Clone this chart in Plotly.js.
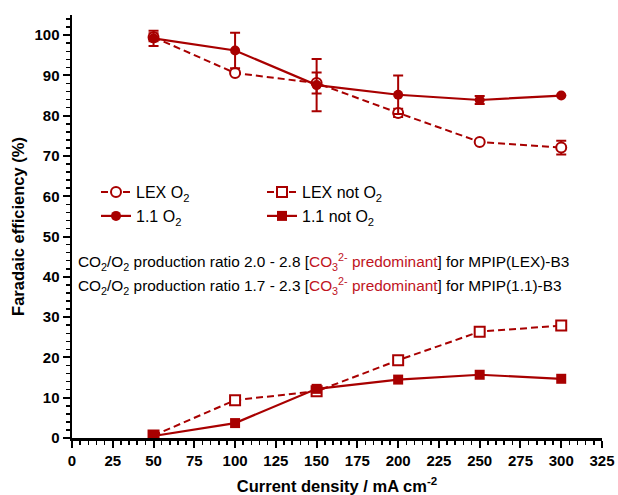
<!DOCTYPE html>
<html>
<head>
<meta charset="utf-8">
<script src="https://cdn.plot.ly/plotly-3.0.1.min.js"></script>
<style>html,body{margin:0;padding:0;background:#fff;}#chart{width:618px;height:495px;}</style>
</head>
<body>
<div id="chart"></div>
<script>
// Current density (mA cm^-2)
const currentDensity = [50, 100, 150, 200, 250, 300];
// Faradaic efficiency (%)
const lexO2 = [99.5, 90.6, 88.1, 80.7, 73.5, 72.1];
const lexO2Err = [1.0, 0, 2.6, 1.0, 0, 1.7];
const o2_11 = [99.2, 96.2, 87.6, 85.2, 83.9, 85.0];
const o2_11Err = [1.9, 4.4, 6.5, 4.8, 1.0, 0];
const lexNotO2 = [0.6, 9.4, 11.6, 19.3, 26.4, 27.9];
const notO2_11 = [0.5, 3.7, 12.2, 14.5, 15.7, 14.7];
const seriesNames = ['LEX O<sub>2</sub>', '1.1 O<sub>2</sub>', 'LEX not O<sub>2</sub>', '1.1 not O<sub>2</sub>'];
const xTicks = [0, 25, 50, 75, 100, 125, 150, 175, 200, 225, 250, 275, 300, 325];
const yTicks = [0, 10, 20, 30, 40, 50, 60, 70, 80, 90, 100];
const noteLines = [
  'CO<sub>2</sub>/O<sub>2</sub> production ratio 2.0 - 2.8 [<span style="color:#c0141e">CO<sub>3</sub><sup>2-</sup> predominant</span>] for MPIP(LEX)-B3',
  'CO<sub>2</sub>/O<sub>2</sub> production ratio 1.7 - 2.3 [<span style="color:#c0141e">CO<sub>3</sub><sup>2-</sup> predominant</span>] for MPIP(1.1)-B3'
];

const RED = '#a80000';
const FONT = 'Liberation Sans, Arial, sans-serif';

const traces = [
  {
    x: currentDensity, y: lexO2, name: seriesNames[0], type: 'scatter', mode: 'lines+markers',
    line: {color: RED, width: 2, dash: '7px,4px'},
    marker: {symbol: 'circle', size: 10, color: '#ffffff', line: {color: RED, width: 2}},
    error_y: {type: 'data', array: lexO2Err, visible: true, color: RED, thickness: 2, width: 5},
    legend: 'legend'
  },
  {
    x: currentDensity, y: lexNotO2, name: seriesNames[2], type: 'scatter', mode: 'lines+markers',
    line: {color: RED, width: 2, dash: '7px,4px'},
    marker: {symbol: 'square', size: 10, color: '#ffffff', line: {color: RED, width: 2}},
    legend: 'legend2'
  },
  {
    x: currentDensity, y: o2_11, name: seriesNames[1], type: 'scatter', mode: 'lines+markers',
    line: {color: RED, width: 2.2},
    marker: {symbol: 'circle', size: 10, color: RED, line: {color: RED, width: 0}},
    error_y: {type: 'data', array: o2_11Err, visible: true, color: RED, thickness: 2, width: 5},
    legend: 'legend3'
  },
  {
    x: currentDensity, y: notO2_11, name: seriesNames[3], type: 'scatter', mode: 'lines+markers',
    line: {color: RED, width: 2.2},
    marker: {symbol: 'square', size: 10, color: RED, line: {color: RED, width: 0}},
    legend: 'legend4'
  }
];

// plot area pixel geometry helpers (paper coords)
const L = 72, R = 602, T = 15, B = 438;
const px = p => (p - L) / (R - L);
const py = p => (B - p) / (B - T);

const legBase = {bgcolor: 'rgba(0,0,0,0)', borderwidth: 0, font: {family: FONT, size: 16, color: '#000'},
  xanchor: 'left', yanchor: 'middle', itemwidth: 30};

const layout = {
  width: 618, height: 495,
  margin: {l: L, r: 618 - R, t: T, b: 495 - B, pad: 0},
  paper_bgcolor: '#ffffff', plot_bgcolor: '#ffffff',
  font: {family: FONT, size: 15, color: '#000'},
  showlegend: true,
  legend: Object.assign({}, legBase, {x: px(96), y: py(192)}),
  legend2: Object.assign({}, legBase, {x: px(262), y: py(192)}),
  legend3: Object.assign({}, legBase, {x: px(96), y: py(216)}),
  legend4: Object.assign({}, legBase, {x: px(262), y: py(216)}),
  xaxis: {
    range: [0, 325], tickvals: xTicks, ticktext: xTicks.map(String),
    showgrid: false, zeroline: false, showline: true, linecolor: '#000', linewidth: 2.5,
    ticks: 'outside', ticklen: 7, tickwidth: 2, tickcolor: '#000',
    tickfont: {family: FONT, size: 15, color: '#000', weight: 'bold'},
    minor: {dtick: 5, tick0: 0, ticks: 'outside', ticklen: 4, tickwidth: 1.5, tickcolor: '#000', showgrid: false},
    title: {text: 'Current density / mA cm<sup>-2</sup>', font: {family: FONT, size: 16.5, color: '#000', weight: 'bold'}, standoff: 13},
    fixedrange: true
  },
  yaxis: {
    range: [0, 105], tickvals: yTicks, ticktext: yTicks.map(String),
    showgrid: false, zeroline: false, showline: true, linecolor: '#000', linewidth: 2.5,
    ticks: 'outside', ticklen: 7, tickwidth: 2, tickcolor: '#000',
    tickfont: {family: FONT, size: 15, color: '#000', weight: 'bold'},
    minor: {dtick: 2, tick0: 0, ticks: 'outside', ticklen: 4, tickwidth: 1.5, tickcolor: '#000', showgrid: false},
    title: {text: 'Faradaic efficiency (%)', font: {family: FONT, size: 16.5, color: '#000', weight: 'bold'}, standoff: 6},
    fixedrange: true
  },
  annotations: noteLines.map((t, i) => ({
    text: t, xref: 'paper', yref: 'paper', x: px(76), y: py(262 + i * 23.5),
    xanchor: 'left', yanchor: 'middle', showarrow: false,
    font: {family: FONT, size: 15.4, color: '#000'}
  }))
};

Plotly.newPlot('chart', traces, layout, {displayModeBar: false, staticPlot: true});
</script>
</body>
</html>
